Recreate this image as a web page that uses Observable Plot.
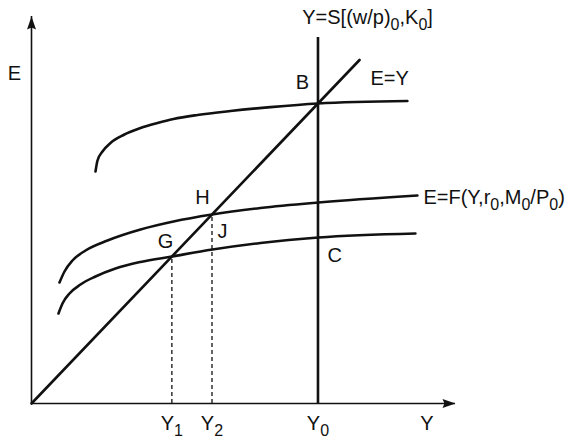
<!DOCTYPE html>
<html>
<head>
<meta charset="utf-8">
<script src="https://cdn.jsdelivr.net/npm/d3@7"></script>
<script src="https://cdn.jsdelivr.net/npm/@observablehq/plot@0.6"></script>
<style>
  body { margin: 0; background: #fff; }
</style>
</head>
<body>
<div id="chart"></div>
<script>
// Output Y (horizontal) against planned expenditure E (vertical).
const outputTicks = [49, 63, 100, 138];
const outputTickLabels = ["Y_1", "Y_2", "Y_0", "Y"];

const outputMax = 148;      // end of the Y axis
const expenditureMax = 129; // end of the E axis
const fullEmployment = 100; // Y0, the supply line Y=S[(w/p)0,K0]
const supplyTop = 122;
const y1 = 49;              // G
const y2 = 63;              // H

// 45-degree line E=Y
const equilibriumLineY = [0, 114.5];

// Expenditure schedule passing through B
const highY = [22.34, 23.04, 24.78, 27.57, 32.11, 38.05, 43.98, 49.56, 57.94, 69.46, 83.42, 100, 131.2];
const highE = [77.33, 81.0, 84.0, 86.83, 89.5, 91.83, 93.5, 94.83, 96.17, 97.5, 98.8, 100, 100.83];

// Expenditure schedule E=F(Y,r0,M0/P0) passing through H
const midY = [9.77, 11.52, 14.31, 18.85, 26.53, 38.05, 49.56, 63, 79.93, 100.17, 134.7];
const midE = [40.33, 44.0, 47.67, 51.0, 54.33, 58.0, 60.67, 63, 65.17, 67.0, 69.33];

// Expenditure schedule passing through G and C
const lowY = [9.42, 10.82, 13.26, 17.1, 22.34, 29.32, 38.05, 49, 63.18, 79.93, 100.17, 134];
const lowE = [30.0, 33.33, 36.67, 39.67, 42.33, 45.0, 47.17, 49, 51.33, 53.5, 55.33, 56.67];

// Point and curve annotations
const pointLabels = ["B", "H", "J", "G", "C"];
const pointLabelY = [94.6, 59.7, 66.7, 46.8, 105.8];
const pointLabelE = [107, 68.7, 57.3, 54, 49.3];

const curveLabels = ["E=Y", "E=F(Y,r_0,M_0/P_0)", "Y=S[(w/p)_0,K_0]"];
const curveLabelY = [118.3, 136.8, 94.5];
const curveLabelE = [108.3, 68.7, 128.5];

const verticalAxisLabel = "E";
const verticalAxisLabelE = 110;

const toRows = (xs, ys) => xs.map((x, i) => ({x, y: ys[i]}));
const tickText = new Map(outputTicks.map((d, i) => [d, outputTickLabels[i]]));

// Filled arrowheads; the tip sits at the symbol origin.
const arrowUp = {
  draw(ctx) {
    ctx.moveTo(0, 0);
    ctx.lineTo(4.5, 13);
    ctx.lineTo(0, 11);
    ctx.lineTo(-4.5, 13);
    ctx.closePath();
  }
};
const arrowRight = {
  draw(ctx) {
    ctx.moveTo(0, 0);
    ctx.lineTo(-13, 4.5);
    ctx.lineTo(-11, 0);
    ctx.lineTo(-13, -4.5);
    ctx.closePath();
  }
};

const font = "'Liberation Sans', Arial, Helvetica, sans-serif";
const labelSize = 20;
const curveWidth = 2.6;

const chart = Plot.plot({
  width: 570,
  height: 440,
  marginLeft: 31,
  marginRight: 115,
  marginTop: 16,
  marginBottom: 37,
  style: {fontFamily: font, fontSize: labelSize + "px", background: "#fff", color: "#111", overflow: "visible"},
  x: {domain: [0, outputMax]},
  y: {domain: [0, expenditureMax], axis: null},
  marks: [
    // axes
    Plot.ruleY([0], {x1: 0, x2: outputMax, stroke: "#111", strokeWidth: 1.6}),
    Plot.ruleX([0], {y1: 0, y2: expenditureMax, stroke: "#111", strokeWidth: 1.6}),
    Plot.dot([{x: 0, y: expenditureMax}], {x: "x", y: "y", symbol: arrowUp, fill: "#111", stroke: "none"}),
    Plot.dot([{x: outputMax, y: 0}], {x: "x", y: "y", symbol: arrowRight, fill: "#111", stroke: "none"}),
    Plot.axisX(outputTicks, {
      tickSize: 0, tickPadding: 12, fontSize: labelSize, fill: "#111", label: null,
      tickFormat: d => tickText.get(d)
    }),
    Plot.text([verticalAxisLabel], {x: 0, y: verticalAxisLabelE, dx: -17, fontSize: labelSize, fill: "#111"}),

    // dashed guides down to Y1 and Y2
    Plot.ruleX([y1, y2], {y1: 0, y2: d => d, stroke: "#111", strokeWidth: 1.3, strokeDasharray: "4,3"}),

    // supply line at Y0
    Plot.ruleX([fullEmployment], {y1: 0, y2: supplyTop, stroke: "#111", strokeWidth: curveWidth}),

    // E=Y
    Plot.line(toRows(equilibriumLineY, equilibriumLineY), {x: "x", y: "y", stroke: "#111", strokeWidth: curveWidth}),

    // expenditure schedules
    Plot.line(toRows(highY, highE), {x: "x", y: "y", curve: "monotone-x", stroke: "#111", strokeWidth: curveWidth}),
    Plot.line(toRows(midY, midE), {x: "x", y: "y", curve: "monotone-x", stroke: "#111", strokeWidth: curveWidth}),
    Plot.line(toRows(lowY, lowE), {x: "x", y: "y", curve: "monotone-x", stroke: "#111", strokeWidth: curveWidth}),

    // annotations
    Plot.text(pointLabels, {x: (d, i) => pointLabelY[i], y: (d, i) => pointLabelE[i], text: d => d, fontSize: labelSize, fill: "#111"}),
    Plot.text(curveLabels, {x: (d, i) => curveLabelY[i], y: (d, i) => curveLabelE[i], text: d => d, textAnchor: "start", fontSize: labelSize, fill: "#111"})
  ]
});

// Turn "_x" in any label into a lowered, smaller subscript.
function applySubscripts(svg) {
  const subScale = 0.8, shift = 0.3;
  svg.querySelectorAll("text").forEach(el => {
    const s = el.textContent;
    if (!s.includes("_")) return;
    const parts = s.split(/_(\w)/);
    el.textContent = "";
    let lowered = false;
    parts.forEach((p, i) => {
      if (!p) return;
      const t = document.createElementNS("http://www.w3.org/2000/svg", "tspan");
      t.textContent = p;
      if (i % 2 === 1) {
        t.setAttribute("font-size", `${subScale * 100}%`);
        t.setAttribute("dy", `${(shift / subScale).toFixed(3)}em`);
        lowered = true;
      } else if (lowered) {
        t.setAttribute("dy", `${-shift}em`);
        lowered = false;
      }
      el.appendChild(t);
    });
  });
}
applySubscripts(chart);

document.getElementById("chart").appendChild(chart);
</script>
</body>
</html>
